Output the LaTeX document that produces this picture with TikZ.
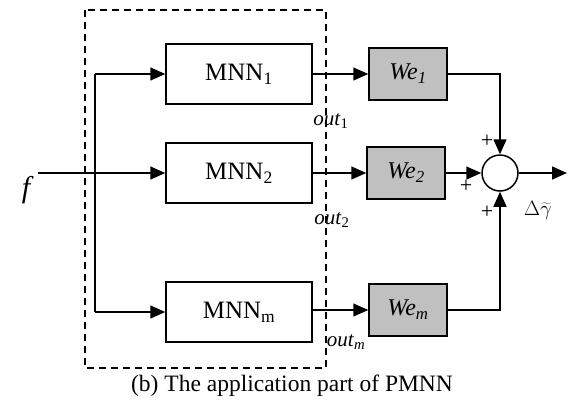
\documentclass[tikz,border=0pt]{standalone}
\usepackage{fontspec}
\setmainfont{Liberation Serif}
\usetikzlibrary{arrows.meta}
\definecolor{wgray}{RGB}{192,192,192}

\begin{document}
\begin{tikzpicture}[x=1pt,y=-1pt]
\tikzstyle{mnn}=[draw,line width=1.5pt,minimum width=146pt,minimum height=60pt,inner sep=0pt,font=\fontsize{25}{30}\selectfont];
\tikzstyle{we}=[draw,line width=1.5pt,fill=wgray,minimum width=78pt,minimum height=52pt,inner sep=0pt,font=\fontsize{24}{28}\selectfont\itshape];
\tikzstyle{lbl}=[inner sep=0pt,font=\fontsize{21}{24}\selectfont];
\tikzstyle{pls}=[inner sep=0pt,font=\fontsize{22}{24}\selectfont];
\tikzstyle{arr}=[line width=1.5pt,-{Triangle[length=15pt,width=13pt]}];
\useasboundingbox (0,0) rectangle (572,399);

\draw [line width=1.5pt,dash pattern=on 7pt off 5pt] (85,10) rectangle (326,368);

\node [mnn] (m1) at (239,74) {MNN\textsubscript{1}};
\node [mnn] (m2) at (239,173) {MNN\textsubscript{2}};
\node [mnn] (mm) at (239,312) {MNN\textsubscript{m}};

\node [we] (w1) at (408,74) {We\textsubscript{1}};
\node [we] (w2) at (406,173) {We\textsubscript{2}};
\node [we] (wm) at (408,310) {We\textsubscript{m}};

\node [draw,circle,line width=1.5pt,minimum size=36pt,inner sep=0pt] (sum) at (500,173) {};

\node [inner sep=0pt,font=\fontsize{30}{34}\selectfont\itshape] (f) at (26,190) {f};
\coordinate (fin) at (38,173);
\coordinate (top) at (95,74);
\coordinate (bot) at (95,312);
\coordinate (c1) at (500,74);
\coordinate (cm) at (500,310);
\coordinate (out) at (567,173);

\draw [arr] (fin) -- (m2);
\draw [line width=1.5pt] (top) -- (bot);
\draw [arr] (top) -- (m1);
\draw [arr] (bot) -- (mm);

\draw [arr] (m1.east |- w1) -- (w1);
\draw [arr] (m2) -- (w2);
\draw [arr] (mm.east |- wm) -- (wm);

\draw [arr] (w1) -- (c1) -- (sum);
\draw [arr] (w2) -- (sum);
\draw [arr] (wm) -- (cm) -- (sum);
\draw [arr] (sum) -- (out);

\node [lbl] (o1) at (331,121) {\textit{out}\textsubscript{1}};
\node [lbl] (o2) at (332,220) {\textit{out}\textsubscript{2}};
\node [lbl] (om) at (346,342) {\textit{out}\textsubscript{\textit{m}}};

\node [pls] (p1) at (487,141) {+};
\node [pls] (p2) at (466,186) {+};
\node [pls] (pm) at (487,212) {+};
\node [inner sep=0pt,font=\fontsize{22}{24}\selectfont] (dg) at (538,210) {$\Delta\widetilde{\gamma}$};

\node [inner sep=0pt,font=\fontsize{23.5}{28}\selectfont] (cap) at (292,386) {(b) The application part of PMNN};
\end{tikzpicture}
\end{document}
